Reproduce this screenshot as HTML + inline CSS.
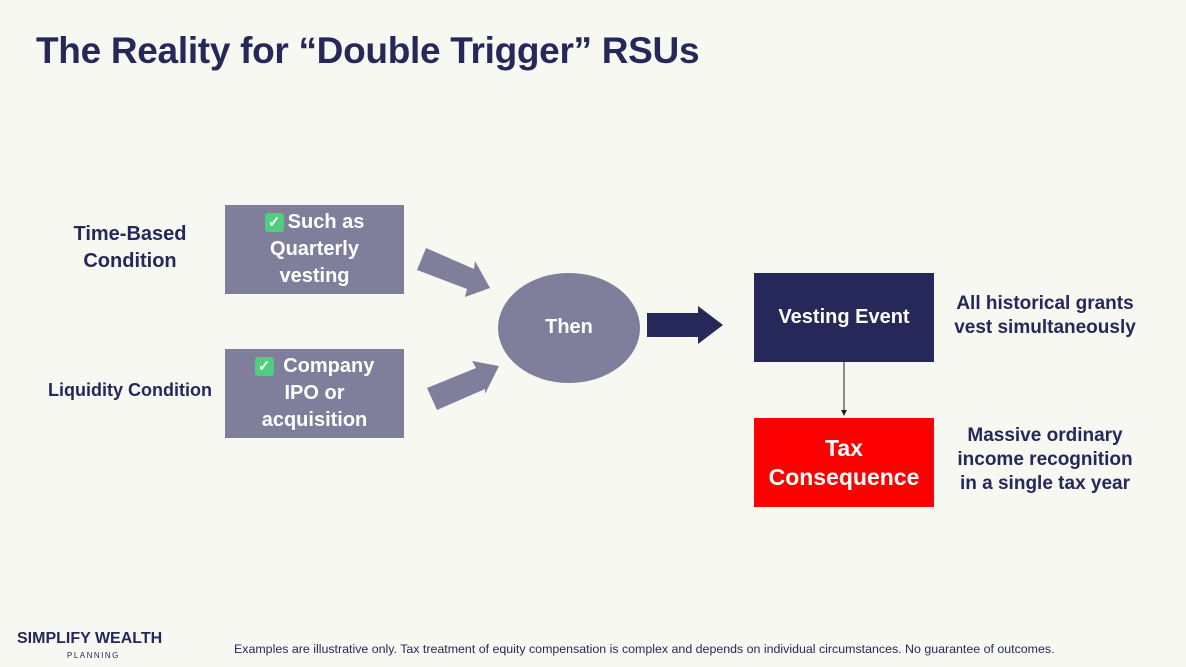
<!DOCTYPE html>
<html><head><meta charset="utf-8"><style>
body{margin:0;width:1186px;height:667px;background:#f8f8f3;font-family:"Liberation Sans",sans-serif;position:relative;overflow:hidden}
.a{position:absolute}
h1{position:absolute;left:36px;top:30px;margin:0;font-size:37px;color:#252858;font-weight:bold;letter-spacing:-0.3px}
.box{position:absolute;background:#7f7f9c;color:#fff;font-weight:bold;font-size:20px;text-align:center;line-height:27px;display:flex;align-items:center;justify-content:center;flex-direction:column}
.lab{position:absolute;color:#252858;font-weight:bold;text-align:center}
.chk{display:inline-block;width:19px;height:19px;background:#4fcf7e;border-radius:3px;color:#fff;font-size:15px;line-height:19px;vertical-align:1px;margin-right:4px}
</style></head><body>
<h1>The Reality for “Double Trigger” RSUs</h1>
<div class="lab" style="left:50px;top:221px;width:160px;font-size:20px;line-height:27px">Time-Based<br>Condition</div>
<div class="lab" style="left:40px;top:380px;width:180px;font-size:18px">Liquidity Condition</div>
<div class="box" style="left:225px;top:205px;width:179px;height:89px"><div><span class="chk">✓</span>Such as</div><div>Quarterly</div><div>vesting</div></div>
<div class="box" style="left:225px;top:349px;width:179px;height:89px"><div><span class="chk">✓</span> Company</div><div>IPO or</div><div>acquisition</div></div>
<svg class="a" style="left:0;top:0" width="1186" height="667">
<polygon points="426,248 474,269 475,261 490,288 465,297 467,289 417,270" fill="#7f7f9c"/>
<polygon points="427,388 437,410 485,389 485,394 499,366 472,361 476,368" fill="#7f7f9c"/>
<ellipse cx="569" cy="328" rx="71" ry="55" fill="#7f7f9c"/>
<polygon points="647,313 698,313 698,306 723,325 698,344 698,337 647,337" fill="#252858"/>
<line x1="844" y1="362" x2="844" y2="411" stroke="#222" stroke-width="1"/>
<polygon points="841,410 847,410 844,416" fill="#222"/>
</svg>
<div class="lab" style="left:498px;top:316px;width:142px;color:#fff;font-size:20px">Then</div>
<div class="box" style="left:754px;top:273px;width:180px;height:89px;background:#252858">Vesting Event</div>
<div class="box" style="left:754px;top:418px;width:180px;height:89px;background:#ff0000;font-size:23px;line-height:29px">Tax<br>Consequence</div>
<div class="lab" style="left:940px;top:292px;width:210px;font-size:19px;line-height:24px">All historical grants<br>vest simultaneously</div>
<div class="lab" style="left:940px;top:424px;width:210px;font-size:19px;line-height:24px">Massive ordinary<br>income recognition<br>in a single tax year</div>
<div class="lab" style="left:17px;top:630px;font-size:16px;color:#252858;text-align:left">SIMPLIFY WEALTH</div>
<div class="a" style="left:67px;top:651px;font-size:8px;letter-spacing:1.5px;color:#252858">PLANNING</div>
<div class="a" style="left:234px;top:642px;font-size:12.4px;color:#252858">Examples are illustrative only. Tax treatment of equity compensation is complex and depends on individual circumstances. No guarantee of outcomes.</div>
</body></html>
